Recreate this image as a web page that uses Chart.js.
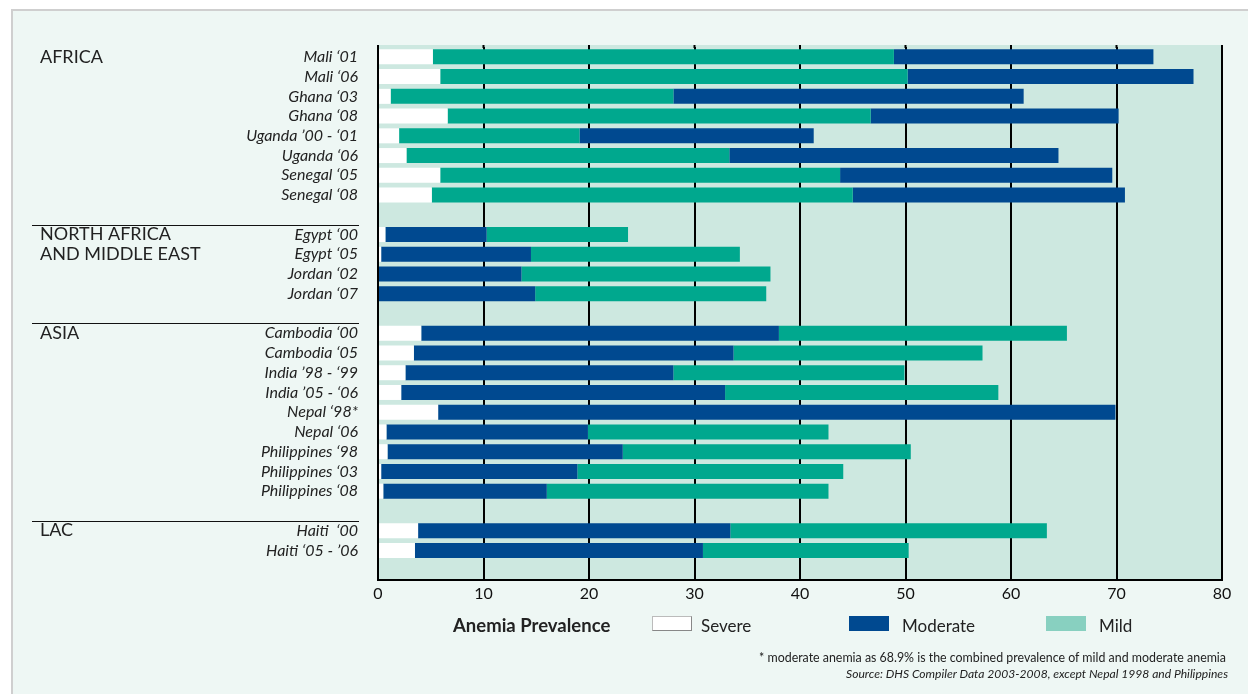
<!DOCTYPE html>
<html>
<head>
<meta charset="utf-8">
<script src="https://cdn.jsdelivr.net/npm/chart.js@4"></script>
<style>
  html, body { margin: 0; padding: 0; background: #ffffff; }
  body { width: 1248px; height: 694px; position: relative; overflow: hidden; font-family: Lato, sans-serif; color: #222; }
  .panel { position: absolute; left: 11px; top: 9px; right: 0; bottom: 0; background: #eef7f4; border-left: 2px solid #cfcfcf; border-top: 2px solid #cfcfcf; }
  .wrap { position: absolute; left: 0; top: 0; width: 1248px; height: 694px; }
  .legend { position: absolute; top: 616px; font-size: 17px; line-height: 20px; }
  .box { position: absolute; width: 40px; height: 15px; }
  .note { position: absolute; right: 22px; font-size: 12.4px; white-space: nowrap; }
</style>
</head>
<body>
<div class="panel"></div>
<div class="wrap"><canvas id="chart"></canvas></div>

<div class="legend" style="left:453px; top:615px; font-weight:bold; font-size:18.5px;">Anemia Prevalence</div>
<div class="box" style="left:652px; top:616px; background:#fff; border:1px solid #bbb; border-right-color:#888; border-bottom-color:#888; width:38px; height:13px;"></div>
<div class="legend" style="left:701px; top:616px;">Severe</div>
<div class="box" style="left:849px; top:616px; background:#004990;"></div>
<div class="legend" style="left:902px; top:616px;">Moderate</div>
<div class="box" style="left:1046px; top:616px; background:#88d0c0;"></div>
<div class="legend" style="left:1099px; top:616px;">Mild</div>

<div class="note" style="top:650px;">* moderate anemia as 68.9% is the combined prevalence of mild and moderate anemia</div>
<div class="note" style="top:666px; font-style:italic; right:20px; font-size:12.1px;">Source: DHS Compiler Data 2003-2008, except Nepal 1998 and Philippines</div>

<script>
// rows, blank strings are the gaps between regions
const categories = [
  'Mali ‘01', 'Mali ‘06', 'Ghana ‘03', 'Ghana ‘08', 'Uganda ’00 - ‘01', 'Uganda ‘06', 'Senegal ‘05', 'Senegal ‘08',
  '',
  'Egypt ‘00', 'Egypt ‘05', 'Jordan ‘02', 'Jordan ‘07',
  '',
  'Cambodia ‘00', 'Cambodia ‘05', 'India ’98 - ‘99', 'India ’05 - ‘06', 'Nepal ‘98*', 'Nepal ‘06',
  'Philippines ‘98', 'Philippines ‘03', 'Philippines ‘08',
  '',
  'Haiti  ‘00', 'Haiti ‘05 - ’06',
  ''
];

const severe = [
  5.2, 5.9, 1.2, 6.6, 2.0, 2.7, 5.9, 5.1,
  null,
  0.7, 0.3, 0, 0,
  null,
  4.1, 3.4, 2.6, 2.2, 5.7, 0.8, 0.9, 0.3, 0.5,
  null,
  3.8, 3.5,
  null
];

// in the Africa rows the mild part is drawn before the moderate part
const mildFirst = [
  43.7, 44.3, 26.8, 40.1, 17.1, 30.6, 37.9, 39.9,
  null, null, null, null, null, null,
  null, null, null, null, null, null, null, null, null,
  null, null, null, null
];

const moderate = [
  24.6, 27.1, 33.2, 23.5, 22.2, 31.2, 25.8, 25.8,
  null,
  9.6, 14.2, 13.6, 14.9,
  null,
  33.9, 30.3, 25.4, 30.7, 64.2, 19.1, 22.3, 18.6, 15.5,
  null,
  29.6, 27.3,
  null
];

const mild = [
  null, null, null, null, null, null, null, null,
  null,
  13.4, 19.8, 23.6, 21.9,
  null,
  27.3, 23.6, 21.9, 25.9, null, 22.8, 27.3, 25.2, 26.7,
  null,
  30.0, 19.5,
  null
];

const xTicks = [0, 10, 20, 30, 40, 50, 60, 70, 80];

const groupNames = [['AFRICA'], ['NORTH AFRICA', 'AND MIDDLE EAST'], ['ASIA'], ['LAC']];
const groupStarts = [0, 9, 14, 24];

const NAVY = '#004990';
const TEAL = '#00a88e';

const regionPlugin = {
  id: 'regions',
  beforeDraw(chart) {
    const { ctx, chartArea: a } = chart;
    ctx.save();
    ctx.fillStyle = '#cde8e0';
    ctx.fillRect(a.left, a.top - 2, a.right - a.left, a.bottom - a.top + 2);
    ctx.restore();
  },
  afterDraw(chart) {
    const { ctx, chartArea: a } = chart;
    const y = chart.scales.y;
    const x = chart.scales.x;
    const step = y.height / categories.length;
    ctx.save();
    // the frame and grid start a touch above the first row
    ctx.fillStyle = '#000';
    xTicks.forEach(v => {
      const px = x.getPixelForValue(v);
      ctx.fillRect(px - 1, a.top - 2, 2, 3);
    });
    ctx.fillStyle = '#222';
    ctx.font = '18px Lato';
    ctx.textAlign = 'left';
    ctx.textBaseline = 'middle';
    groupNames.forEach((lines, i) => {
      const start = groupStarts[i];
      lines.forEach((txt, j) => {
        ctx.fillText(txt, 40, y.getPixelForValue(start + j));
      });
      if (i > 0) {
        const ly = Math.round(y.getPixelForValue(start) - step / 2) + 0.5;
        ctx.strokeStyle = '#111';
        ctx.lineWidth = 1;
        ctx.beginPath();
        ctx.moveTo(32, ly);
        ctx.lineTo(359, ly);
        ctx.stroke();
      }
    });
    ctx.restore();
  }
};

new Chart(document.getElementById('chart'), {
  type: 'bar',
  data: {
    labels: categories,
    datasets: [
      { label: 'Severe', data: severe, backgroundColor: '#ffffff' },
      { label: 'Mild', data: mildFirst, backgroundColor: TEAL },
      { label: 'Moderate', data: moderate, backgroundColor: NAVY },
      { label: 'Mild', data: mild, backgroundColor: TEAL }
    ]
  },
  options: {
    indexAxis: 'y',
    responsive: true,
    maintainAspectRatio: false,
    animation: false,
    datasets: {
      bar: { barPercentage: 0.76, categoryPercentage: 1, borderWidth: 0 }
    },
    layout: { padding: { left: 0, top: 47, right: 26, bottom: 86 } },
    plugins: {
      legend: { display: false },
      tooltip: { enabled: false }
    },
    scales: {
      x: {
        stacked: true,
        min: 0,
        max: 80,
        afterBuildTicks(scale) { scale.ticks = xTicks.map(v => ({ value: v })); },
        afterFit(scale) { scale.height = 28; },
        grid: { color: '#000', lineWidth: 2, drawTicks: false },
        border: { color: '#000', width: 2 },
        ticks: { padding: 4, color: '#111', font: { family: 'Lato', size: 16 } }
      },
      y: {
        stacked: true,
        afterFit(scale) { scale.width = 378; },
        grid: { display: false, drawTicks: false },
        border: { display: true, color: '#000', width: 2 },
        ticks: { autoSkip: false, padding: 20, color: '#222', font: { family: 'Lato', size: 16, style: 'italic' } }
      }
    }
  },
  plugins: [regionPlugin]
});
</script>
</body>
</html>
